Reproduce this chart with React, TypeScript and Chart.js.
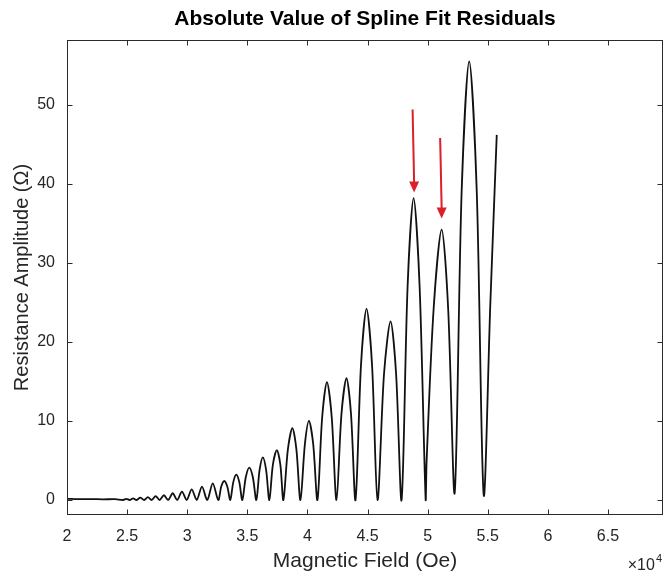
import React, { useEffect, useRef } from 'react';
import { Chart, registerables } from 'chart.js';

Chart.register(...registerables);

// Magnetic field (Oe) of each sampled point of the residual curve
const fieldOe = [
  20000, 21000, 22000, 23000, 24000, 24667,
  24938, 25208, 25500, 25792, 26104, 26417, 26729, 27042,
  27375, 27708, 28063, 28417, 28792, 29167, 29563, 29958,
  30375, 30792, 31229, 31667, 32125, 32583,
  32833, 33083, 33333, 33583,
  33833, 34083, 34333, 34583,
  34875, 35167, 35458, 35750,
  36021, 36292, 36563, 36833,
  37125, 37458, 37750, 38000,
  38375, 38750, 39083, 39417,
  39792, 40125, 40479, 40833,
  41229, 41625, 42021, 42417,
  42833, 43250, 43625, 44000,
  44458, 44917, 45375, 45833,
  46375, 46917, 47375, 47833,
  48333, 48833, 49333, 49833,
  49917, 50500, 51167, 51708, 52250,
  52833, 53458, 54083, 54667,
  55208, 55750,
];

// Absolute residual amplitude (Ohm) at each field value
const amplitude = [
  0.15, 0.1, 0.12, 0.08, 0.1, 0.0,
  0.15, 0.0, 0.2, 0.0, 0.3, 0.0, 0.35, 0.0,
  0.5, 0.0, 0.6, 0.0, 0.85, 0.0, 1.05, 0.0,
  1.35, 0.0, 1.7, 0.0, 2.1, 0.0,
  1.7, 2.4, 1.7, 0.0,
  2.26, 3.2, 2.26, 0.0,
  2.9, 4.1, 2.9, 0.0,
  3.8, 5.4, 3.8, 0.0,
  4.45, 6.3, 4.45, 0.0,
  6.4, 9.1, 6.4, 0.0,
  7.1, 10.0, 7.1, 0.0,
  10.5, 14.9, 10.5, 0.0,
  10.9, 15.4, 10.9, 0.0,
  17.1, 24.2, 17.1, 0.0,
  16.0, 22.6, 16.0, 0.0,
  27.0, 38.2, 27.0, 0.1,
  5.0, 24.2, 34.2, 24.2, 0.9,
  39.2, 55.5, 39.2, 0.6,
  24.5, 46.2,
];

const xTickValues = [20000, 25000, 30000, 35000, 40000, 45000, 50000, 55000, 60000, 65000];
const yTickValues = [0, 10, 20, 30, 40, 50];

// red annotation arrows (data coordinates)
const arrowTailField = [48750, 51042];
const arrowTipField = [48875, 51167];
const arrowTailAmp = [49.4, 45.8];
const arrowTipAmp = [38.9, 35.6];

const FONT = '"Liberation Sans", Arial, Helvetica, sans-serif';

const framePlugin = {
  id: 'matlabFrame',
  afterDatasetsDraw(chart: any) {
    const { ctx, chartArea: a, scales } = chart;
    const xs = scales.x;
    const ys = scales.y;
    ctx.save();

    // arrows
    ctx.strokeStyle = '#d9202b';
    ctx.fillStyle = '#d9202b';
    ctx.lineWidth = 2;
    for (let i = 0; i < arrowTailField.length; i++) {
      const x0 = xs.getPixelForValue(arrowTailField[i]);
      const y0 = ys.getPixelForValue(arrowTailAmp[i]);
      const x1 = xs.getPixelForValue(arrowTipField[i]);
      const y1 = ys.getPixelForValue(arrowTipAmp[i]);
      const head = 11;
      const half = 5;
      ctx.beginPath();
      ctx.moveTo(x0, y0);
      ctx.lineTo(x1, y1 - head + 1);
      ctx.stroke();
      ctx.beginPath();
      ctx.moveTo(x1 - half, y1 - head);
      ctx.lineTo(x1 + half, y1 - head);
      ctx.lineTo(x1, y1);
      ctx.closePath();
      ctx.fill();
    }

    // box
    const L = Math.round(a.left) + 0.5;
    const R = Math.round(a.right) - 0.5;
    const T = Math.round(a.top) + 0.5;
    const B = Math.round(a.bottom) - 0.5;
    ctx.strokeStyle = '#2a2a2a';
    ctx.lineWidth = 1;
    ctx.strokeRect(L, T, R - L, B - T);

    // inward ticks
    const tl = 5;
    ctx.beginPath();
    xTickValues.forEach((v) => {
      const px = Math.round(xs.getPixelForValue(v)) + 0.5;
      ctx.moveTo(px, B);
      ctx.lineTo(px, B - tl);
      ctx.moveTo(px, T);
      ctx.lineTo(px, T + tl);
    });
    yTickValues.forEach((v) => {
      const py = Math.round(ys.getPixelForValue(v)) + 0.5;
      ctx.moveTo(L, py);
      ctx.lineTo(L + tl, py);
      ctx.moveTo(R, py);
      ctx.lineTo(R - tl, py);
    });
    ctx.stroke();

    // exponent label
    ctx.fillStyle = '#262626';
    ctx.textBaseline = 'alphabetic';
    ctx.textAlign = 'right';
    ctx.font = `11px ${FONT}`;
    const ex = a.right - 1;
    const ey = a.bottom + 55;
    ctx.fillText('4', ex, ey - 8);
    const w4 = ctx.measureText('4').width;
    ctx.font = `16px ${FONT}`;
    ctx.fillText('\u00d710', ex - w4 - 1, ey);

    ctx.restore();
  },
};

export default function App() {
  const canvasRef = useRef<HTMLCanvasElement | null>(null);

  useEffect(() => {
    const canvas = canvasRef.current;
    if (!canvas) return;
    const points = fieldOe.map((x, i) => ({ x, y: amplitude[i] }));
    const chart = new Chart(canvas, {
      type: 'line',
      data: {
        datasets: [
          {
            data: points,
            borderColor: '#111111',
            borderWidth: 1.8,
            pointRadius: 0,
            tension: 0.3,
            fill: false,
          },
        ],
      },
      options: {
        animation: false,
        responsive: false,
        maintainAspectRatio: false,
        layout: { padding: { left: 0, right: 2, top: 0, bottom: 0 } },
        plugins: {
          legend: { display: false },
          tooltip: { enabled: false },
          title: {
            display: true,
            fullSize: false,
            text: 'Absolute Value of Spline Fit Residuals',
            color: '#000000',
            font: { family: FONT, size: 21, weight: 'bold', lineHeight: 1.2 },
            padding: { top: 7, bottom: 7.8 },
          },
        },
        scales: {
          x: {
            type: 'linear',
            min: 20000,
            max: 69580,
            grid: { display: false, drawTicks: false },
            border: { display: false },
            afterBuildTicks: (s: any) => {
              s.ticks = xTickValues.map((v) => ({ value: v }));
            },
            afterFit: (s: any) => {
              s.height = 59;
            },
            ticks: {
              color: '#262626',
              font: { family: FONT, size: 16 },
              padding: 12,
              maxRotation: 0,
              autoSkip: false,
              callback: (v: any) => String(Number(v) / 10000),
            },
            title: {
              display: true,
              text: 'Magnetic Field (Oe)',
              color: '#262626',
              font: { family: FONT, size: 21 },
              padding: { top: 0, bottom: 0 },
            },
          },
          y: {
            type: 'linear',
            min: -1.9,
            max: 58.2,
            grid: { display: false, drawTicks: false },
            border: { display: false },
            afterBuildTicks: (s: any) => {
              s.ticks = yTickValues.map((v) => ({ value: v }));
            },
            afterFit: (s: any) => {
              s.width = 67;
            },
            ticks: {
              color: '#262626',
              font: { family: FONT, size: 16 },
              padding: 12,
              autoSkip: false,
            },
            title: {
              display: true,
              text: 'Resistance Amplitude (\u03a9)',
              color: '#262626',
              font: { family: FONT, size: 20 },
              padding: { top: 10, bottom: 0 },
            },
          },
        },
      },
      plugins: [framePlugin],
    });
    return () => chart.destroy();
  }, []);

  return (
    <div style={{ position: 'fixed', left: 0, top: 0, width: 665, height: 574, background: '#ffffff' }}>
      <canvas ref={canvasRef} width={665} height={574} style={{ display: 'block', width: 665, height: 574 }} />
    </div>
  );
}
